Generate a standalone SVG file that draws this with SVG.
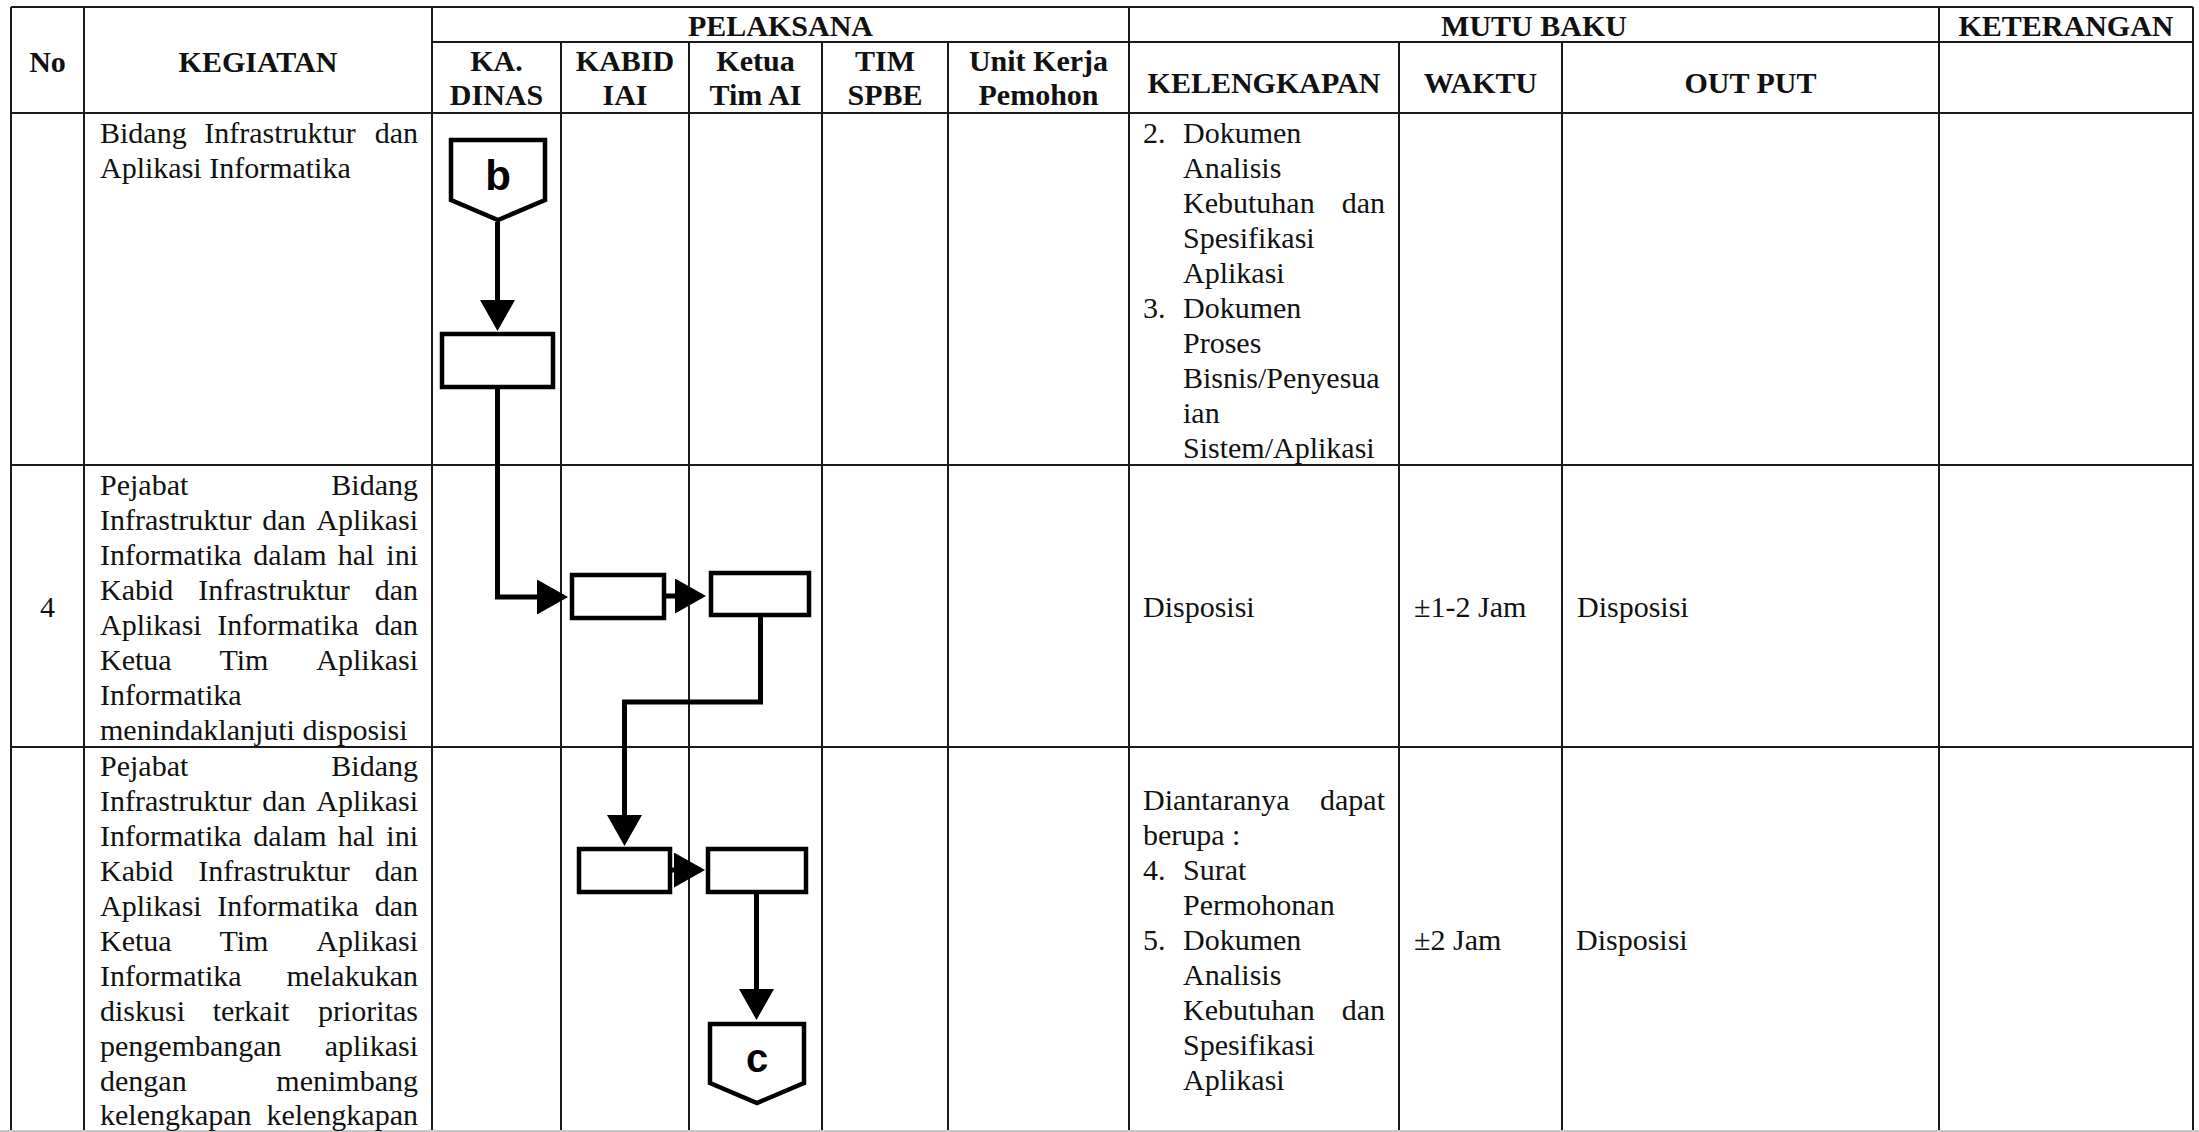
<svg xmlns="http://www.w3.org/2000/svg" width="2199" height="1132" viewBox="0 0 2199 1132">
<style>
.grid{stroke:#1a1a1a;stroke-width:2;fill:none}
.h{font-family:"Liberation Serif","Times New Roman",serif;font-weight:bold;font-size:30px;fill:#111;text-anchor:middle}
.t{font-family:"Liberation Serif","Times New Roman",serif;font-size:30px;fill:#111}
.e{text-anchor:end}
.m{text-anchor:middle}
.box{fill:#fff;stroke:#000;stroke-width:4.5}
.lbl{font-family:"Liberation Sans",Arial,sans-serif;font-weight:bold;fill:#000;text-anchor:middle}
.con{fill:none;stroke:#000;stroke-width:5}
</style>
<defs>
<marker id="arrow" markerUnits="userSpaceOnUse" markerWidth="32" markerHeight="36" refX="27" refY="17.5" orient="auto" viewBox="0 0 32 36">
<path d="M0,0 L31,17.5 L0,35 Z" fill="#000"/>
</marker>
</defs>
<rect width="2199" height="1132" fill="#fff"/>
<g id="table">
<path class="grid" d="M11,7 H2193 M432,42 H2193 M11,113 H2193 M11,465 H2193 M11,747 H2193"/>
<path class="grid" d="M11,7 V1132 M84,7 V1132 M432,7 V1132 M561,42 V1132 M689,42 V1132 M822,42 V1132 M948,42 V1132 M1129,7 V1132 M1399,42 V1132 M1562,42 V1132 M1939,7 V1132 M2193,7 V1132"/>
<line x1="0" y1="1131" x2="2199" y2="1131" stroke="#c8c8c8" stroke-width="2"/>
</g>
<g id="header">
<text class="h" x="47.5" y="72">No</text>
<text class="h" x="258" y="72">KEGIATAN</text>
<text class="h" x="780.5" y="36">PELAKSANA</text>
<text class="h" x="1534" y="36">MUTU BAKU</text>
<text class="h" x="2066" y="36">KETERANGAN</text>
<text class="h" x="496.5" y="71">KA.</text>
<text class="h" x="496.5" y="105">DINAS</text>
<text class="h" x="625" y="71">KABID</text>
<text class="h" x="625" y="105">IAI</text>
<text class="h" x="755.5" y="71">Ketua</text>
<text class="h" x="755.5" y="105">Tim AI</text>
<text class="h" x="885" y="71">TIM</text>
<text class="h" x="885" y="105">SPBE</text>
<text class="h" x="1038.5" y="71">Unit Kerja</text>
<text class="h" x="1038.5" y="105">Pemohon</text>
<text class="h" x="1264" y="93">KELENGKAPAN</text>
<text class="h" x="1480.5" y="93">WAKTU</text>
<text class="h" x="1750.5" y="93">OUT PUT</text>
</g>
<g id="row-b">
<text class="t" x="100" y="143">Bidang</text>
<text class="t m" x="280" y="143">Infrastruktur</text>
<text class="t e" x="418" y="143">dan</text>
<text class="t" x="100" y="178">Aplikasi Informatika</text>
<text class="t" x="1143" y="143">2.</text>
<text class="t" x="1183" y="143">Dokumen</text>
<text class="t" x="1183" y="178">Analisis</text>
<text class="t" x="1183" y="213">Kebutuhan</text>
<text class="t e" x="1385" y="213">dan</text>
<text class="t" x="1183" y="248">Spesifikasi</text>
<text class="t" x="1183" y="283">Aplikasi</text>
<text class="t" x="1143" y="318">3.</text>
<text class="t" x="1183" y="318">Dokumen</text>
<text class="t" x="1183" y="353">Proses</text>
<text class="t" x="1183" y="388">Bisnis/Penyesua</text>
<text class="t" x="1183" y="423">ian</text>
<text class="t" x="1183" y="458">Sistem/Aplikasi</text>
</g>
<g id="row-4">
<text class="t m" x="47.5" y="617">4</text>
<text class="t" x="100" y="495">Pejabat</text>
<text class="t e" x="418" y="495">Bidang</text>
<text class="t" x="100" y="530">Infrastruktur</text>
<text class="t m" x="284" y="530">dan</text>
<text class="t e" x="418" y="530">Aplikasi</text>
<text class="t" x="100" y="565">Informatika</text>
<text class="t m" x="290" y="565">dalam</text>
<text class="t m" x="356" y="565">hal</text>
<text class="t e" x="418" y="565">ini</text>
<text class="t" x="100" y="600">Kabid</text>
<text class="t m" x="274" y="600">Infrastruktur</text>
<text class="t e" x="418" y="600">dan</text>
<text class="t" x="100" y="635">Aplikasi</text>
<text class="t m" x="288" y="635">Informatika</text>
<text class="t e" x="418" y="635">dan</text>
<text class="t" x="100" y="670">Ketua</text>
<text class="t m" x="244" y="670">Tim</text>
<text class="t e" x="418" y="670">Aplikasi</text>
<text class="t" x="100" y="705">Informatika</text>
<text class="t" x="100" y="740">menindaklanjuti disposisi</text>
<text class="t" x="1143" y="617">Disposisi</text>
<text class="t" x="1414" y="617">±1-2 Jam</text>
<text class="t" x="1577" y="617">Disposisi</text>
</g>
<g id="row-5">
<text class="t" x="100" y="776">Pejabat</text>
<text class="t e" x="418" y="776">Bidang</text>
<text class="t" x="100" y="811">Infrastruktur</text>
<text class="t m" x="284" y="811">dan</text>
<text class="t e" x="418" y="811">Aplikasi</text>
<text class="t" x="100" y="846">Informatika</text>
<text class="t m" x="290" y="846">dalam</text>
<text class="t m" x="356" y="846">hal</text>
<text class="t e" x="418" y="846">ini</text>
<text class="t" x="100" y="881">Kabid</text>
<text class="t m" x="274" y="881">Infrastruktur</text>
<text class="t e" x="418" y="881">dan</text>
<text class="t" x="100" y="916">Aplikasi</text>
<text class="t m" x="288" y="916">Informatika</text>
<text class="t e" x="418" y="916">dan</text>
<text class="t" x="100" y="951">Ketua</text>
<text class="t m" x="244" y="951">Tim</text>
<text class="t e" x="418" y="951">Aplikasi</text>
<text class="t" x="100" y="986">Informatika</text>
<text class="t e" x="418" y="986">melakukan</text>
<text class="t" x="100" y="1021">diskusi</text>
<text class="t m" x="251" y="1021">terkait</text>
<text class="t e" x="418" y="1021">prioritas</text>
<text class="t" x="100" y="1056">pengembangan</text>
<text class="t e" x="418" y="1056">aplikasi</text>
<text class="t" x="100" y="1091">dengan</text>
<text class="t e" x="418" y="1091">menimbang</text>
<text class="t" x="100" y="1125">kelengkapan</text>
<text class="t e" x="418" y="1125">kelengkapan</text>
<text class="t" x="1143" y="810">Diantaranya</text>
<text class="t e" x="1385" y="810">dapat</text>
<text class="t" x="1143" y="845">berupa :</text>
<text class="t" x="1143" y="880">4.</text>
<text class="t" x="1183" y="880">Surat</text>
<text class="t" x="1183" y="915">Permohonan</text>
<text class="t" x="1143" y="950">5.</text>
<text class="t" x="1183" y="950">Dokumen</text>
<text class="t" x="1183" y="985">Analisis</text>
<text class="t" x="1183" y="1020">Kebutuhan</text>
<text class="t e" x="1385" y="1020">dan</text>
<text class="t" x="1183" y="1055">Spesifikasi</text>
<text class="t" x="1183" y="1090">Aplikasi</text>
<text class="t" x="1414" y="950">±2 Jam</text>
<text class="t" x="1576" y="950">Disposisi</text>
</g>
<g id="connectors">
<path class="con" d="M497.5,222 V327" marker-end="url(#arrow)"/>
<path class="con" d="M497.5,389 V597 H564" marker-end="url(#arrow)"/>
<path class="con" d="M666,596 H702" marker-end="url(#arrow)"/>
<path class="con" d="M760.5,617 V702 H624.5 V842" marker-end="url(#arrow)"/>
<path class="con" d="M672,870 H701" marker-end="url(#arrow)"/>
<path class="con" d="M756.5,894 V1016" marker-end="url(#arrow)"/>
</g>
<g id="node-b">
<polygon class="box" points="451,140 545,140 545,200 498,220 451,200"/>
<text class="lbl" x="498" y="190" font-size="42">b</text>
</g>
<g id="node-dinas">
<rect class="box" x="442" y="334" width="111" height="53"/>
</g>
<g id="node-kabid-1">
<rect class="box" x="572" y="575" width="92" height="43"/>
</g>
<g id="node-ketua-1">
<rect class="box" x="711" y="573" width="98" height="42"/>
</g>
<g id="node-kabid-2">
<rect class="box" x="579" y="849" width="91" height="43"/>
</g>
<g id="node-ketua-2">
<rect class="box" x="708" y="849" width="98" height="43"/>
</g>
<g id="node-c">
<polygon class="box" points="710,1024 804,1024 804,1083 757,1103 710,1083"/>
<text class="lbl" x="757" y="1072" font-size="40">c</text>
</g>
</svg>
